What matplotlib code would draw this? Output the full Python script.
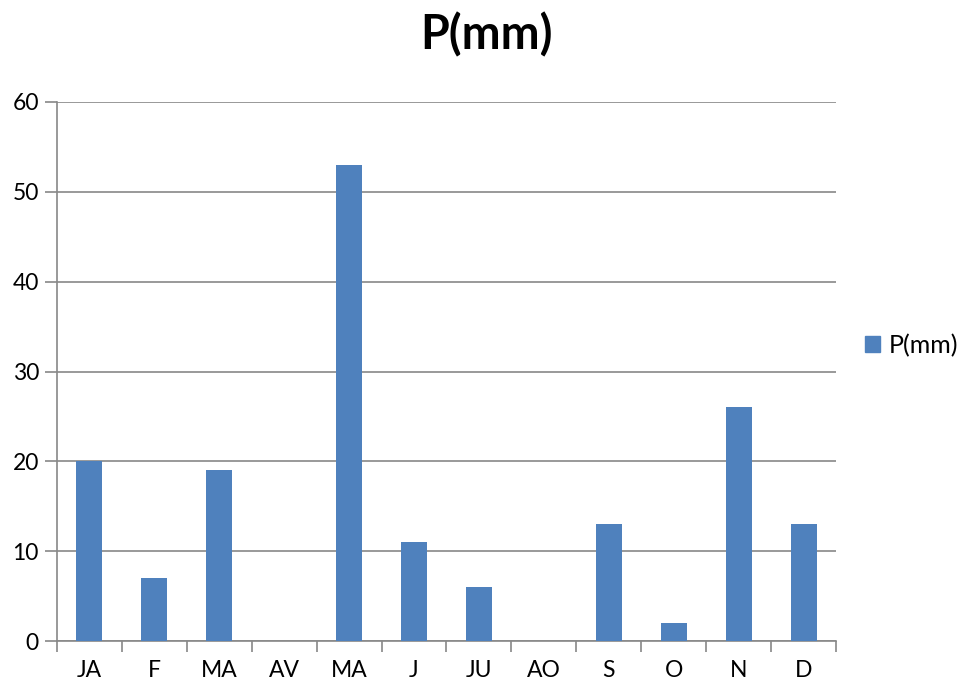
import matplotlib
matplotlib.use("Agg")
import matplotlib.pyplot as plt
import numpy as np
from matplotlib.patches import Patch

months = ["JA", "F", "MA", "AV", "MA", "J", "JU", "AO", "S", "O", "N", "D"]
precip = [20, 7, 19, 0, 53, 11, 6, 0, 13, 2, 26, 13]
yticks = [0, 10, 20, 30, 40, 50, 60]

bar_color = "#4F81BD"
grid_color = "#888888"

plt.rcParams["font.family"] = ["Lato", "DejaVu Sans"]

fig = plt.figure(figsize=(9.59, 6.83), dpi=100)
ax = fig.add_axes([57 / 959, 42 / 683, 779 / 959, 539 / 683])

x = np.arange(len(months))
ax.bar(x, precip, width=0.4, color=bar_color, zorder=3)

ax.set_xlim(-0.5, len(months) - 0.5)
ax.set_ylim(0, 60)
ax.set_yticks(yticks)
ax.set_xticks(x)
ax.set_xticklabels(months)
ax.set_xticks(np.arange(-0.5, len(months)), minor=True)

ax.tick_params(axis="x", which="major", length=0, pad=14, labelsize=16.5)
ax.tick_params(axis="x", which="minor", length=8, color=grid_color, width=1.2)
ax.tick_params(axis="y", length=9, color=grid_color, width=1.2,
               labelsize=16.5, pad=4)

ax.yaxis.grid(True, color=grid_color, linewidth=1.2, zorder=0)
for side in ["top", "right"]:
    ax.spines[side].set_visible(False)
for side in ["left", "bottom"]:
    ax.spines[side].set_color(grid_color)
    ax.spines[side].set_linewidth(1.2)

fig.text(0.507, 0.949, "P(mm)", ha="center", va="center",
         fontsize=33.5, fontweight="bold")

fig.legend(handles=[Patch(color=bar_color, label="P(mm)")],
           loc="center left", bbox_to_anchor=(0.902, 0.494),
           frameon=False, fontsize=18, handlelength=0.6, handleheight=0.6,
           handletextpad=0.35, borderaxespad=0, borderpad=0)

fig.savefig("out.png", dpi=100)
